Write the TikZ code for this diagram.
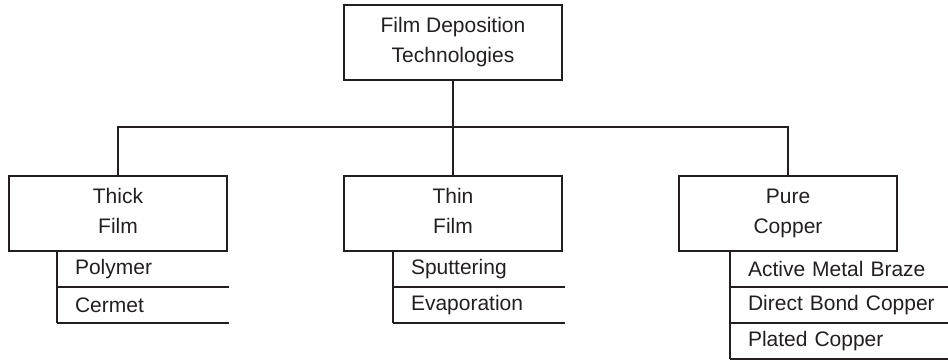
\documentclass[tikz,border=0pt]{standalone}
\usepackage{fontspec}
\setmainfont{Liberation Sans}
\usepackage{xcolor}
\definecolor{ink}{HTML}{231F20}
\usetikzlibrary{positioning}

\begin{document}
\begin{tikzpicture}[
 node distance=48pt and 58.5pt,
 line width=0.65pt,
 color=ink,
 box/.style={draw,minimum width=109pt,minimum height=37.5pt,inner sep=0pt,outer sep=0pt,align=center,font=\fontsize{10.5}{15}\selectfont,execute at end node={\vphantom{p}}},
 item/.style={text width=86pt,inner sep=0pt,outer sep=0pt,minimum height=18pt,align=left,anchor=north west,font=\fontsize{10.5}{12}\selectfont,execute at begin node={\hspace*{9pt}}},
 wide/.style={text width=109pt}]
\useasboundingbox (0,0) rectangle (474pt,-180pt);
\node[box] (top) at (226.5pt,-21.25pt) {Film Deposition\\Technologies};
\node[box,below=of top] (thin) {Thin\\Film};
\node[box,left=of thin] (thick) {Thick\\Film};
\node[box,right=of thin] (copper) {Pure\\Copper};
% branches
\draw (top.south) -- ++(0,-23.5pt) coordinate (bus);
\draw (top.south) -- (thin.north);
\draw (thick.north) |- (bus) -| (copper.north);
% sub-lists
\node[item] (polymer) at ([xshift=24pt]thick.south west) {Polymer};
\node[item,below=0pt of polymer] (cermet) {Cermet};
\node[item] (sputter) at ([xshift=24.5pt]thin.south west) {Sputtering};
\node[item,below=0pt of sputter] (evap) {Evaporation};
\node[item,wide] (braze) at ([xshift=25.5pt]copper.south west) {Active Metal Braze};
\node[item,wide,below=0pt of braze] (dbc) {Direct Bond Copper};
\node[item,wide,below=0pt of dbc] (plated) {Plated Copper};
\foreach \a/\b in {polymer/cermet,sputter/evap,braze/plated}
  \draw (\a.north west) -- (\b.south west);
\foreach \c in {polymer,cermet,sputter,evap,braze,dbc,plated}
  \draw (\c.south west) -- (\c.south east);
\end{tikzpicture}
\end{document}
